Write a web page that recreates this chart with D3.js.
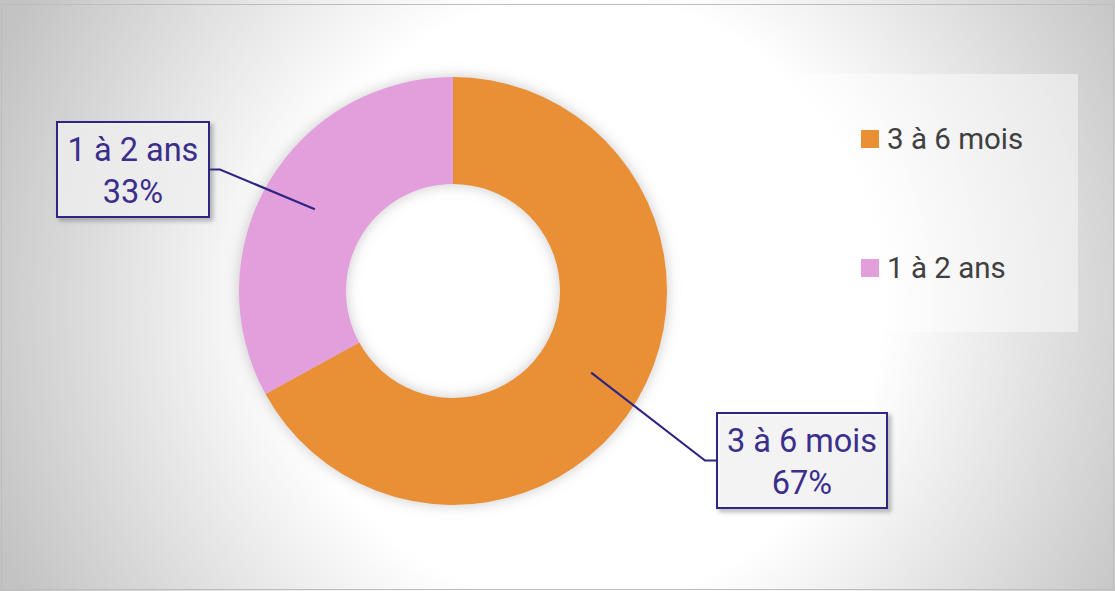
<!DOCTYPE html>
<html>
<head>
<meta charset="utf-8">
<script src="https://cdn.jsdelivr.net/npm/d3@7"></script>
<style>
  html, body { margin: 0; padding: 0; background: #ffffff; }
  svg { display: block; }
  text { font-family: Roboto, "Noto Sans", sans-serif; }
</style>
</head>
<body>
<svg id="chart" width="1115" height="591"></svg>
<script>
// ---- data ----
const categories = ["3 à 6 mois", "1 à 2 ans"];
const values = [67, 33];
const percentLabels = ["67%", "33%"];
const colors = ["#E98F34", "#E39EDC"];

// ---- layout ----
const W = 1115, H = 591;
const cx = 453, cy = 291, outerR = 214, innerR = 107;
const labelBoxes = [
  { x: 717, y: 413, w: 170, h: 95 },
  { x: 57, y: 122, w: 152, h: 95 }
];

const svg = d3.select("#chart");
const defs = svg.append("defs");

const bg = defs.append("radialGradient")
  .attr("id", "bg").attr("gradientUnits", "userSpaceOnUse")
  .attr("cx", 580).attr("cy", 300).attr("r", 630);
bg.append("stop").attr("offset", 0).attr("stop-color", "#ffffff");
bg.append("stop").attr("offset", 0.48).attr("stop-color", "#ffffff");
bg.append("stop").attr("offset", 1).attr("stop-color", "#c3c3c3");

const glow = defs.append("filter").attr("id", "glow")
  .attr("x", "-20%").attr("y", "-20%").attr("width", "140%").attr("height", "140%");
glow.append("feDropShadow").attr("dx", 0).attr("dy", 0)
  .attr("stdDeviation", 7).attr("flood-color", "#8a8a8a").attr("flood-opacity", 0.45);

const boxShadow = defs.append("filter").attr("id", "boxShadow")
  .attr("x", "-20%").attr("y", "-20%").attr("width", "140%").attr("height", "140%");
boxShadow.append("feDropShadow").attr("dx", 3).attr("dy", 3)
  .attr("stdDeviation", 2).attr("flood-color", "#555").attr("flood-opacity", 0.5);

// background and frame
svg.append("rect").attr("x", 0).attr("y", 0).attr("width", W).attr("height", H)
  .attr("fill", "url(#bg)");
svg.append("rect").attr("x", 1.5).attr("y", 4.5).attr("width", W - 3).attr("height", H - 6)
  .attr("fill", "none").attr("stroke", "#bdbdbd").attr("stroke-width", 1);

// donut
const pie = d3.pie().sort(null).value(d => d);
const arcs = pie(values);
const arc = d3.arc().innerRadius(innerR).outerRadius(outerR);

const g = svg.append("g").attr("transform", `translate(${cx},${cy})`);
g.append("g").attr("filter", "url(#glow)")
  .selectAll("path").data(arcs).join("path")
  .attr("d", arc).attr("fill", (d, i) => colors[i]);

// leader lines + label boxes
const lineColor = "#2E2682";
const textColor = "#3B2F8C";
arcs.forEach((a, i) => {
  const [px, py] = arc.centroid(a);
  const b = labelBoxes[i];
  const ax = px + cx, ay = py + cy;
  const boxCy = b.y + b.h / 2;
  const attachX = (ax > b.x + b.w / 2) ? b.x + b.w : b.x;
  const elbowX = (ax > b.x + b.w / 2) ? attachX + 11 : attachX - 12;
  svg.append("polyline")
    .attr("points", `${ax},${ay} ${elbowX},${boxCy} ${attachX},${boxCy}`)
    .attr("fill", "none").attr("stroke", lineColor).attr("stroke-width", 2.2);
  svg.append("rect")
    .attr("x", b.x).attr("y", b.y).attr("width", b.w).attr("height", b.h)
    .attr("fill", "rgba(255,255,255,0.65)")
    .attr("stroke", lineColor).attr("stroke-width", 2)
    .attr("filter", "url(#boxShadow)");
  const t = svg.append("text")
    .attr("x", b.x + b.w / 2).attr("text-anchor", "middle")
    .attr("fill", textColor).attr("font-size", 32.5);
  t.append("tspan").attr("x", b.x + b.w / 2).attr("y", b.y + 39).text(categories[i]);
  t.append("tspan").attr("x", b.x + b.w / 2).attr("y", b.y + 81).text(percentLabels[i]);
});

// legend
const legend = svg.append("g");
legend.append("rect").attr("x", 805).attr("y", 74).attr("width", 273).attr("height", 258)
  .attr("fill", "rgba(255,255,255,0.45)");
const legendY = d3.scalePoint().domain(categories).range([139, 268]);
categories.forEach((c, i) => {
  legend.append("rect").attr("x", 861).attr("y", legendY(c) - 9)
    .attr("width", 18).attr("height", 18).attr("fill", colors[i]);
  legend.append("text").attr("x", 887).attr("y", legendY(c) + 10)
    .attr("font-size", 29.5).attr("fill", "#404040").text(c);
});
</script>
</body>
</html>
